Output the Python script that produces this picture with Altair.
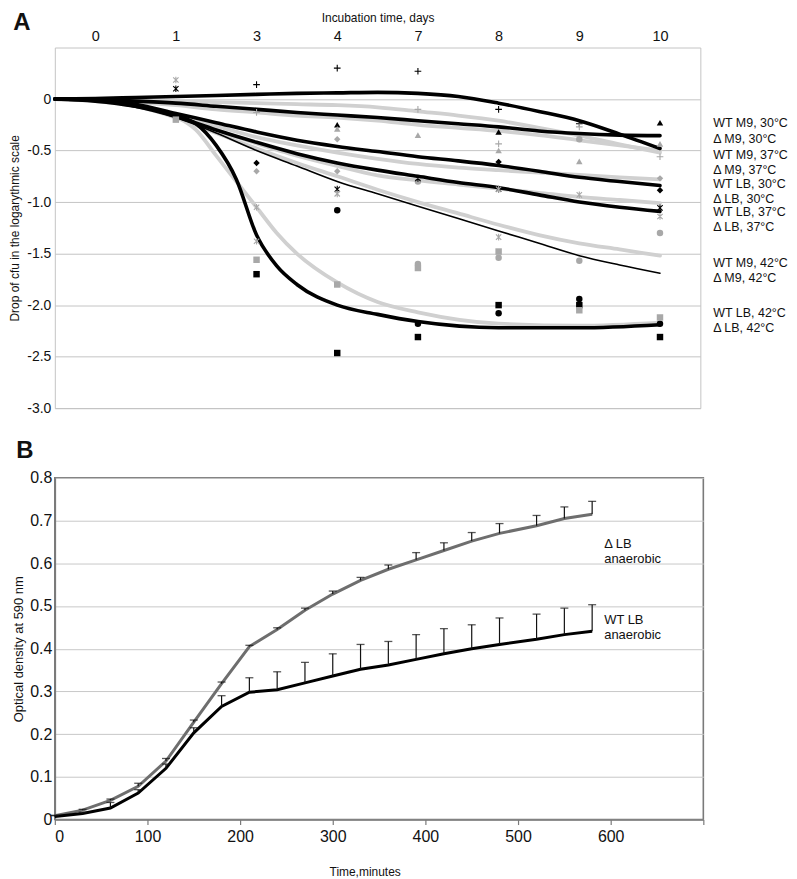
import altair as alt
import pandas as pd

FONT = "Liberation Sans"

# ---------------- Panel A ----------------
days = ["0", "1", "3", "4", "7", "8", "9", "10"]

# trend curves, read along the day axis (position = index of the day category)
t_std = [-0.5, 0, 0.5, 1, 1.5, 2, 2.5, 3, 3.5, 4, 4.5, 5, 5.5, 6, 6.5, 7]
t_sig = [-0.5, 0, 0.5, 1, 1.25, 1.5, 1.75, 2, 2.25, 2.5, 3, 3.5, 4, 5, 6, 7]

fit_wt_m9_30 = [0, 0.005, 0.015, 0.025, 0.035, 0.045, 0.055, 0.06, 0.065, 0.055, 0.025, -0.04, -0.12, -0.21, -0.34, -0.48]
fit_wt_m9_37 = [0, -0.005, -0.02, -0.04, -0.07, -0.10, -0.13, -0.155, -0.18, -0.21, -0.24, -0.27, -0.31, -0.335, -0.35, -0.355]
fit_d_m9_30 = [0, -0.005, -0.01, -0.02, -0.03, -0.04, -0.05, -0.06, -0.08, -0.12, -0.16, -0.21, -0.28, -0.355, -0.44, -0.52]
fit_d_m9_37 = [0, -0.01, -0.03, -0.06, -0.10, -0.13, -0.16, -0.18, -0.21, -0.25, -0.28, -0.31, -0.35, -0.40, -0.45, -0.50]
fit_wt_lb_30 = [0, -0.01, -0.05, -0.14, -0.23, -0.32, -0.40, -0.46, -0.51, -0.56, -0.60, -0.645, -0.70, -0.76, -0.80, -0.84]
fit_d_lb_30 = [0, -0.01, -0.06, -0.15, -0.26, -0.37, -0.45, -0.52, -0.58, -0.63, -0.665, -0.69, -0.715, -0.735, -0.76, -0.78]
fit_wt_lb_37 = [0, -0.01, -0.07, -0.17, -0.30, -0.42, -0.53, -0.62, -0.69, -0.75, -0.81, -0.86, -0.93, -1.00, -1.05, -1.09]
fit_d_lb_37 = [0, -0.01, -0.07, -0.17, -0.30, -0.43, -0.55, -0.65, -0.74, -0.79, -0.83, -0.87, -0.91, -0.95, -0.98, -1.01]
fit_wt_m9_42 = [0, -0.01, -0.07, -0.18, -0.33, -0.50, -0.65, -0.80, -0.92, -1.04, -1.16, -1.28, -1.40, -1.52, -1.61, -1.69]
fit_d_m9_42 = [0, -0.01, -0.07, -0.18, -0.33, -0.48, -0.62, -0.75, -0.88, -1.00, -1.11, -1.22, -1.32, -1.40, -1.46, -1.52]
fit_wt_lb_42 = [0, -0.02, -0.07, -0.16, -0.24, -0.45, -0.78, -1.32, -1.62, -1.80, -2.00, -2.09, -2.16, -2.22, -2.22, -2.19]
fit_d_lb_42 = [0, -0.02, -0.07, -0.17, -0.30, -0.55, -0.80, -1.05, -1.30, -1.50, -1.78, -1.97, -2.07, -2.18, -2.20, -2.17]

# measured points: day index and drop value
black_plus_i = [2, 3, 4, 5, 6]
black_plus_v = [0.14, 0.30, 0.27, -0.10, -0.24]
grey_plus_i = [2, 4, 5, 6, 7]
grey_plus_v = [-0.13, -0.10, -0.435, -0.27, -0.56]
black_tri_i = [3, 5, 7]
black_tri_v = [-0.25, -0.32, -0.23]
grey_tri_i = [3, 4, 5, 6, 7]
grey_tri_v = [-0.29, -0.35, -0.50, -0.605, -0.435]
black_dia_i = [2, 5, 7]
black_dia_v = [-0.62, -0.61, -0.885]
grey_dia_i = [2, 3, 3, 7]
grey_dia_v = [-0.70, -0.70, -0.39, -0.77]
black_star_i = [1, 3, 4, 5, 7]
black_star_v = [0.10, -0.875, -0.77, -0.875, -1.056]
grey_star_i = [1, 2, 3, 5, 6, 7, 2, 5]
grey_star_v = [0.185, -1.05, -0.92, -0.875, -0.93, -1.14, -1.38, -1.34]
black_circ_i = [3, 4, 5, 6, 7]
black_circ_v = [-1.08, -2.18, -2.08, -1.94, -2.18]
grey_circ_i = [4, 6, 4, 5, 6, 7]
grey_circ_v = [-0.80, -0.39, -1.60, -1.54, -1.57, -1.30]
black_sq_i = [2, 3, 4, 5, 6, 7]
black_sq_v = [-1.70, -2.465, -2.31, -2.00, -2.00, -2.31]
grey_sq_i = [1, 2, 3, 4, 5, 6, 7]
grey_sq_v = [-0.20, -1.56, -1.80, -1.64, -1.48, -2.05, -2.12]

legend_a = ["WT M9, 30°C", "Δ M9, 30°C", "WT M9, 37°C", "Δ M9, 37°C",
            "WT LB, 30°C", "Δ LB, 30°C", "WT LB, 37°C", "Δ LB, 37°C",
            "WT M9, 42°C", "Δ M9, 42°C", "WT LB, 42°C", "Δ LB, 42°C"]
legend_a_at = [-0.233, -0.387, -0.547, -0.692, -0.82, -0.966, -1.094, -1.239,
               -1.593, -1.739, -2.076, -2.222]

y_ticks_a = [-3.0, -2.5, -2.0, -1.5, -1.0, -0.5, 0.0]

# ---------------- Panel B ----------------
time_min = [0, 30, 60, 90, 120, 150, 180, 210, 240, 270, 300, 330, 360, 390, 420, 450, 480, 520, 550, 580]
od_delta = [0.009, 0.022, 0.045, 0.078, 0.137, 0.228, 0.318, 0.405, 0.445, 0.49, 0.528, 0.56, 0.586, 0.608,
            0.63, 0.652, 0.67, 0.688, 0.705, 0.715]
od_delta_err = [0.001, 0.002, 0.003, 0.007, 0.006, 0.005, 0.004, 0.003, 0.004, 0.005, 0.007, 0.007, 0.01,
                0.017, 0.018, 0.02, 0.023, 0.024, 0.027, 0.03]
od_wt = [0.007, 0.014, 0.027, 0.062, 0.12, 0.203, 0.265, 0.298, 0.304, 0.32, 0.336, 0.352, 0.362, 0.375,
         0.388, 0.40, 0.41, 0.422, 0.433, 0.441]
od_wt_err = [0.002, 0.003, 0.013, 0.008, 0.01, 0.012, 0.025, 0.034, 0.042, 0.048, 0.052, 0.058, 0.055, 0.058,
             0.059, 0.056, 0.062, 0.059, 0.062, 0.062]

# ================= build panel A =================
curves = [
    ("Δ M9, 30°C", t_std, fit_d_m9_30, "#d0d0d0", 3.8),
    ("Δ M9, 37°C", t_std, fit_d_m9_37, "#d0d0d0", 3.8),
    ("Δ LB, 30°C", t_std, fit_d_lb_30, "#d0d0d0", 3.8),
    ("Δ LB, 37°C", t_std, fit_d_lb_37, "#d0d0d0", 3.8),
    ("Δ M9, 42°C", t_std, fit_d_m9_42, "#d0d0d0", 3.8),
    ("Δ LB, 42°C", t_sig, fit_d_lb_42, "#d0d0d0", 3.8),
    ("WT M9, 30°C", t_std, fit_wt_m9_30, "#000000", 3.6),
    ("WT M9, 37°C", t_std, fit_wt_m9_37, "#000000", 3.6),
    ("WT LB, 30°C", t_std, fit_wt_lb_30, "#000000", 3.6),
    ("WT LB, 37°C", t_std, fit_wt_lb_37, "#000000", 3.6),
    ("WT LB, 42°C", t_sig, fit_wt_lb_42, "#000000", 3.6),
    ("WT M9, 42°C", t_std, fit_wt_m9_42, "#000000", 1.6),
]
curve_rows = []
for k, (name, ts, vals, col, w) in enumerate(curves):
    for x, v in zip(ts, vals):
        curve_rows.append({"curve": name, "k": k, "x": x, "v": v, "col": col, "w": w})
curve_df = pd.DataFrame(curve_rows)

GREY_PT = "#a8a8a8"
PLUS = "M-1,0H1M0,-1V1"
STAR = "M-0.8,-0.8L0.8,0.8M-0.8,0.8L0.8,-0.8M0,-1V1"
groups = [
    (black_plus_i, black_plus_v, PLUS, "#000000", False),
    (grey_plus_i, grey_plus_v, PLUS, GREY_PT, False),
    (black_star_i, black_star_v, STAR, "#000000", False),
    (grey_star_i, grey_star_v, STAR, GREY_PT, False),
    (black_tri_i, black_tri_v, "triangle-up", "#000000", True),
    (grey_tri_i, grey_tri_v, "triangle-up", GREY_PT, True),
    (black_dia_i, black_dia_v, "diamond", "#000000", True),
    (grey_dia_i, grey_dia_v, "diamond", GREY_PT, True),
    (black_circ_i, black_circ_v, "circle", "#000000", True),
    (grey_circ_i, grey_circ_v, "circle", GREY_PT, True),
    (black_sq_i, black_sq_v, "square", "#000000", True),
    (grey_sq_i, grey_sq_v, "square", GREY_PT, True),
]
pt_rows = []
for xs, vs, shp, col, filled in groups:
    for x, v in zip(xs, vs):
        pt_rows.append({"x": x, "v": v, "shp": shp, "col": col, "filled": filled})
pt_df = pd.DataFrame(pt_rows)

legend_df = pd.DataFrame({"x": [7.5] * len(legend_a), "v": legend_a_at, "label": legend_a})

day_expr = "[" + ",".join("'%s'" % d for d in days) + "][datum.value]"

xA = alt.X("x:Q", scale=alt.Scale(domain=[-0.5, 7.5], nice=False, zero=False),
           axis=alt.Axis(orient="top", values=list(range(len(days))), labelExpr=day_expr,
                         title="Incubation time, days", grid=False, ticks=False, domain=False,
                         labelFont=FONT, labelFontSize=14.5, labelColor="#111", labelPadding=4,
                         titleFont=FONT, titleFontSize=12, titleFontWeight="normal",
                         titleColor="#111", titlePadding=4))
yA = alt.Y("v:Q", scale=alt.Scale(domain=[-3, 0.5], nice=False, zero=False),
           axis=alt.Axis(values=y_ticks_a,
                         labelExpr="datum.value == 0 ? '0' : '-' + format(-datum.value, '.1f')",
                         title="Drop of cfu in the logarythmic scale", grid=True, gridColor="#c4c4c4",
                         ticks=False, domain=False, labelFont=FONT, labelFontSize=14,
                         labelColor="#111", labelPadding=4, titleFont=FONT, titleFontSize=12,
                         titleFontWeight="normal", titleColor="#111", titlePadding=5))

lines_grey = alt.Chart(curve_df[curve_df.col != "#000000"]).mark_line(
    interpolate="monotone", strokeCap="round").encode(
    x=xA, y=yA, detail="curve:N",
    color=alt.Color("col:N", scale=None),
    strokeWidth=alt.StrokeWidth("w:Q", scale=None))
lines_black = alt.Chart(curve_df[curve_df.col == "#000000"]).mark_line(
    interpolate="monotone", strokeCap="round").encode(
    x=xA, y=yA, detail="curve:N",
    color=alt.Color("col:N", scale=None),
    strokeWidth=alt.StrokeWidth("w:Q", scale=None))

pts_stroke = alt.Chart(pt_df[~pt_df.filled]).mark_point(filled=False, strokeWidth=1.1, size=45, opacity=1).encode(
    x=xA, y=yA, shape=alt.Shape("shp:N", scale=None), color=alt.Color("col:N", scale=None))
pts_fill = alt.Chart(pt_df[pt_df.filled]).mark_point(filled=True, size=42, opacity=1).encode(
    x=xA, y=yA, shape=alt.Shape("shp:N", scale=None), color=alt.Color("col:N", scale=None))

legend_text = alt.Chart(legend_df).mark_text(align="left", baseline="middle", dx=13, font=FONT,
                                             fontSize=12.5, color="#111").encode(
    x=xA, y=yA, text="label:N")

letter_a = alt.Chart(pd.DataFrame({"x": [-0.5], "v": [0.5], "label": ["A"]})).mark_text(
    align="center", baseline="middle", dx=-33, dy=-25, font=FONT, fontSize=24, fontWeight="bold",
    color="#111").encode(x=xA, y=yA, text="label:N")

panel_a = alt.layer(lines_grey, lines_black, pts_fill, pts_stroke, legend_text, letter_a).properties(
    width=648, height=362, view=alt.ViewBackground(stroke="#c4c4c4", strokeWidth=1))

# ================= build panel B =================
b_df = pd.DataFrame({
    "t": time_min * 2,
    "od": od_delta + od_wt,
    "err": od_delta_err + od_wt_err,
    "grp": ["delta"] * len(time_min) + ["wt"] * len(time_min),
    "col": ["#6e6e6e"] * len(time_min) + ["#000000"] * len(time_min),
})

xB = alt.X("t:Q", scale=alt.Scale(domain=[0, 700], nice=False, zero=False),
           axis=alt.Axis(values=list(range(0, 701, 100)),
                         labelExpr="datum.value == 700 ? '' : datum.label",
                         title="Time,minutes", grid=False, ticks=True, tickSize=5, tickColor="#7a7a7a",
                         tickWidth=1.2, domain=True, domainColor="#7a7a7a", domainWidth=1.6,
                         labelFont=FONT, labelFontSize=16, labelColor="#111", labelPadding=4,
                         titleFont=FONT, titleFontSize=12, titleFontWeight="normal", titleColor="#111",
                         titlePadding=22, titleX=311))
yB = alt.Y("od:Q", scale=alt.Scale(domain=[0, 0.8], nice=False, zero=False),
           axis=alt.Axis(values=[0, 0.1, 0.2, 0.3, 0.4, 0.5, 0.6, 0.7, 0.8],
                         labelExpr="datum.value == 0 ? '0' : format(datum.value, '.1f')",
                         title="Optical density at 590 nm", grid=True, gridColor="#c8c8c8",
                         ticks=False, domain=True, domainColor="#7a7a7a", domainWidth=1.6,
                         labelFont=FONT, labelFontSize=16, labelColor="#111", labelPadding=3,
                         titleFont=FONT, titleFontSize=13, titleFontWeight="normal", titleColor="#111",
                         titlePadding=4))

err_rules = alt.Chart(b_df).transform_calculate(hi="datum.od + datum.err").mark_rule(
    color="#111", strokeWidth=1.2).encode(x=xB, y=yB, y2="hi:Q")
err_caps = alt.Chart(b_df).transform_calculate(hi="datum.od + datum.err").mark_tick(
    orient="horizontal", size=8, thickness=1.3, color="#111").encode(x=xB, y=alt.Y("hi:Q"))
lines_b = alt.Chart(b_df).mark_line(strokeWidth=3).encode(
    x=xB, y=yB, detail="grp:N", color=alt.Color("col:N", scale=None))

b_labels = pd.DataFrame({
    "t": [593, 593, 593, 593],
    "od": [0.645, 0.61, 0.468, 0.433],
    "label": ["Δ LB", "anaerobic", "WT LB", "anaerobic"],
})
b_text = alt.Chart(b_labels).mark_text(align="left", baseline="middle", font=FONT, fontSize=13,
                                       color="#111").encode(x=xB, y=yB, text="label:N")
letter_b = alt.Chart(pd.DataFrame({"t": [0], "od": [0.8], "label": ["B"]})).mark_text(
    align="center", baseline="middle", dx=-30, dy=-27, font=FONT, fontSize=24, fontWeight="bold",
    color="#111").encode(x=xB, y=yB, text="label:N")

panel_b = alt.layer(lines_b, err_rules, err_caps, b_text, letter_b).properties(
    width=651, height=343, view=alt.ViewBackground(stroke="#7a7a7a", strokeWidth=1.6))

chart = alt.vconcat(panel_a, panel_b, spacing=70, bounds="flush",
                    padding={"left": 0, "top": 0, "right": 0, "bottom": 0}).configure(
    font=FONT).configure_view(stroke=None)

chart.save("out.html", embed_options={"renderer": "svg", "actions": False})
